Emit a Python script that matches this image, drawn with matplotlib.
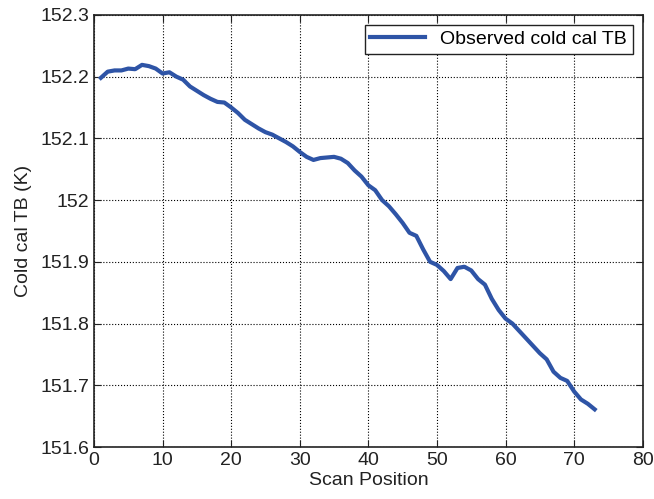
import matplotlib
matplotlib.use("Agg")
import matplotlib.pyplot as plt
import numpy as np
from matplotlib.ticker import FuncFormatter

plt.rcParams['font.family'] = ['Liberation Sans', 'DejaVu Sans']

# posicao de varredura e TB da calibracao fria
scan_pos = np.arange(1, 74)
cold_tb = [152.198, 152.208, 152.210, 152.210, 152.213, 152.212, 152.219, 152.217,
           152.213, 152.205, 152.207, 152.200, 152.195, 152.184, 152.177, 152.170,
           152.164, 152.159, 152.158, 152.150, 152.141, 152.130, 152.123, 152.116,
           152.110, 152.106, 152.100, 152.094, 152.087, 152.078, 152.070, 152.065,
           152.068, 152.069, 152.070, 152.067, 152.060, 152.048, 152.038, 152.024,
           152.016, 152.000, 151.990, 151.977, 151.963, 151.947, 151.942, 151.920,
           151.900, 151.895, 151.885, 151.872, 151.890, 151.892, 151.886, 151.872,
           151.863, 151.840, 151.822, 151.808, 151.800, 151.788, 151.776, 151.764,
           151.752, 151.742, 151.722, 151.712, 151.707, 151.690, 151.677, 151.670,
           151.661]

fig = plt.figure(figsize=(6.54, 4.99), dpi=100)
ax = fig.add_axes([0.1437, 0.1042, 0.839, 0.866])

ax.plot(scan_pos, cold_tb, color='#2E54A6', linewidth=3.0, label='Observed cold cal TB')

ax.set_xlim(0, 80)
ax.set_ylim(151.6, 152.3)
ax.set_xticks(np.arange(0, 81, 10))
ax.set_yticks(np.arange(151.6, 152.31, 0.1))
ax.yaxis.set_major_formatter(FuncFormatter(lambda v, p: '%g' % round(v, 1)))

ax.grid(True, color='black', linestyle=':', linewidth=0.8)
ax.tick_params(direction='in', top=True, right=True, labelsize=14, length=5,
               colors='#222222')
for s in ax.spines.values():
    s.set_linewidth(1.2)
    s.set_color('#222222')

ax.set_xlabel('Scan Position', fontsize=14, labelpad=2, color='#222222')
ax.set_ylabel('Cold cal TB (K)', fontsize=14, labelpad=6, color='#222222')

leg = ax.legend(loc='upper right', fontsize=14, fancybox=False, framealpha=1,
                edgecolor='#222222', handlelength=2.8, borderaxespad=0.5,
                borderpad=0.3)
leg.get_frame().set_linewidth(1.0)

plt.savefig('out.png', dpi=100)
